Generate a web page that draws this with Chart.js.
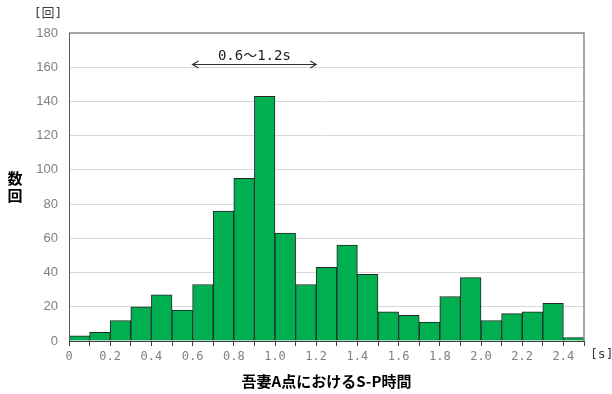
<!DOCTYPE html>
<html>
<head>
<meta charset="utf-8">
<script src="https://cdn.jsdelivr.net/npm/chart.js@4.4.1/dist/chart.umd.min.js"></script>
<style>
  html, body { margin: 0; padding: 0; background: #fff; }
  #wrap { width: 612px; height: 394px; }
</style>
</head>
<body>
<div id="wrap"><canvas id="myChart"></canvas></div>
<script>
// S-P時間の度数分布 (0.1秒刻み)
const binStarts = [0, 0.1, 0.2, 0.3, 0.4, 0.5, 0.6, 0.7, 0.8, 0.9, 1.0, 1.1, 1.2,
                   1.3, 1.4, 1.5, 1.6, 1.7, 1.8, 1.9, 2.0, 2.1, 2.2, 2.3, 2.4];
const counts = [3, 5, 12, 20, 27, 18, 33, 76, 95, 143, 63, 33, 43,
                56, 39, 17, 15, 11, 26, 37, 12, 16, 17, 22, 2];
const xTickLabels = ['0', '0.2', '0.4', '0.6', '0.8', '1.0', '1.2',
                     '1.4', '1.6', '1.8', '2.0', '2.2', '2.4'];
const yTicks = [0, 20, 40, 60, 80, 100, 120, 140, 160, 180];

// 矢印の範囲と注記
const rangeFrom = 0.6, rangeTo = 1.2, rangeY = 162;
const rangeText = '0.6～1.2s';
const yTitleChars = ['回', '数'];

const monoFont = "'DejaVu Sans Mono', 'Noto Sans CJK JP'";

const extras = {
  id: 'extras',
  afterDraw(chart) {
    const ctx = chart.ctx;
    const a = chart.chartArea;
    const x = chart.scales.x, y = chart.scales.y;
    ctx.save();
    // 枠線
    ctx.strokeStyle = '#8c8c8c';
    ctx.lineWidth = 1.5;
    ctx.beginPath();
    ctx.moveTo(a.left, a.top);
    ctx.lineTo(a.right, a.top);
    ctx.lineTo(a.right, a.bottom);
    ctx.stroke();
    ctx.strokeStyle = '#595959';
    ctx.lineWidth = 1;
    ctx.beginPath();
    ctx.moveTo(a.left + 0.5, a.top);
    ctx.lineTo(a.left + 0.5, a.bottom);
    ctx.stroke();

    // 両矢印
    const x1 = x.getPixelForValue(rangeFrom);
    const x2 = x.getPixelForValue(rangeTo);
    const yy = Math.round(y.getPixelForValue(rangeY)) + 0.5;
    ctx.strokeStyle = '#333';
    ctx.lineWidth = 1.2;
    ctx.beginPath();
    ctx.moveTo(x1, yy); ctx.lineTo(x2, yy);
    ctx.moveTo(x1 + 6, yy - 3.5); ctx.lineTo(x1, yy); ctx.lineTo(x1 + 6, yy + 3.5);
    ctx.moveTo(x2 - 6, yy - 3.5); ctx.lineTo(x2, yy); ctx.lineTo(x2 - 6, yy + 3.5);
    ctx.stroke();

    ctx.fillStyle = '#222';
    ctx.font = '14px ' + monoFont;
    ctx.textAlign = 'center';
    ctx.textBaseline = 'alphabetic';
    ctx.fillText(rangeText, (x1 + x2) / 2, yy - 5);

    // 縦書きの軸タイトル
    ctx.fillStyle = '#000';
    ctx.font = "bold 15px 'Noto Sans CJK JP'";
    ctx.textAlign = 'center';
    ctx.textBaseline = 'middle';
    const midY = (a.top + a.bottom) / 2;
    ctx.fillText(yTitleChars[1], 15, midY - 9);
    ctx.fillText(yTitleChars[0], 15, midY + 8);

    // 単位
    ctx.fillStyle = '#404040';
    ctx.font = '13px ' + monoFont;
    ctx.textAlign = 'center';
    ctx.fillText('[回]', a.left - 21, a.top - 19);
    ctx.textAlign = 'left';
    ctx.fillText('[s]', a.right + 6, a.bottom + 14);
    ctx.restore();
  }
};

const ctx = document.getElementById('myChart').getContext('2d');
new Chart(ctx, {
  type: 'bar',
  data: {
    datasets: [{
      label: '回数',
      data: binStarts.map((b, i) => ({ x: b + 0.05, y: counts[i] })),
      backgroundColor: '#00b050',
      borderColor: '#262626',
      borderWidth: 1,
      barPercentage: 1,
      categoryPercentage: 1
    }]
  },
  options: {
    responsive: true,
    maintainAspectRatio: false,
    animation: false,
    layout: { padding: { top: 33, right: 28, left: 0, bottom: 4 } },
    plugins: { legend: { display: false }, tooltip: { enabled: false } },
    scales: {
      x: {
        type: 'linear',
        offset: false,
        min: 0,
        max: 2.5,
        afterBuildTicks(scale) {
          scale.ticks = binStarts.concat([2.5]).map(v => ({ value: v }));
        },
        afterFit(scale) { scale.height = 49; },
        grid: { offset: false, drawOnChartArea: false, drawTicks: true, tickLength: 5, color: '#404040' },
        border: { color: '#404040', width: 1 },
        ticks: {
          autoSkip: false,
          maxRotation: 0,
          padding: 4,
          color: '#7f7f7f',
          font: { family: monoFont, size: 12 },
          callback(value) {
            const n = Math.round(value * 10);
            if (n % 2 !== 0 || n / 2 >= xTickLabels.length) return '';
            return xTickLabels[n / 2];
          }
        },
        title: {
          display: true,
          text: '吾妻A点におけるS-P時間',
          color: '#000',
          font: { family: "'Noto Sans CJK JP'", size: 15, weight: 'bold' },
          padding: { top: 2, bottom: 0 }
        }
      },
      y: {
        min: 0,
        max: 180,
        afterBuildTicks(scale) {
          scale.ticks = yTicks.map(v => ({ value: v }));
        },
        afterFit(scale) { scale.width = 69; },
        grid: { color: '#d9d9d9', drawTicks: false },
        border: { display: false },
        ticks: {
          padding: 11,
          color: '#7f7f7f',
          font: { family: "'Liberation Sans'", size: 13 }
        },
        title: { display: false }
      }
    }
  },
  plugins: [extras]
});
</script>
</body>
</html>
